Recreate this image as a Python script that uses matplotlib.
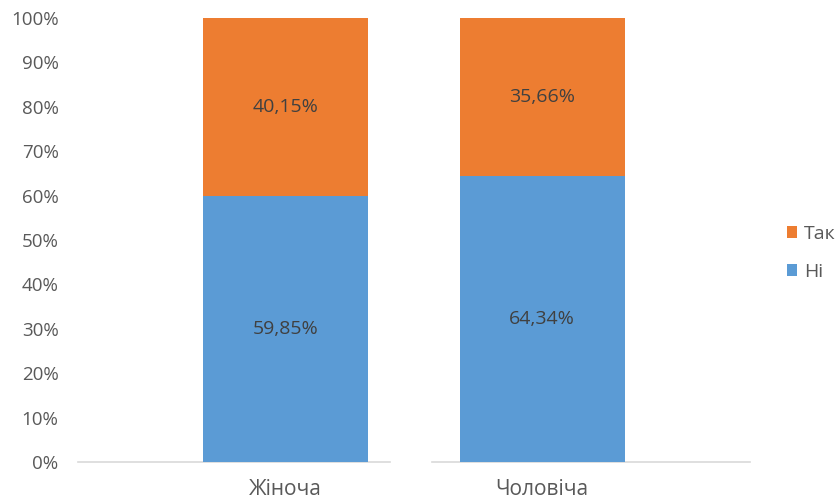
import matplotlib.pyplot as plt
import numpy as np

plt.rcParams['font.family'] = ['Open Sans', 'DejaVu Sans']

categories = ['Жіноча', 'Чоловіча']
ni = [59.85, 64.34]    # Ні
tak = [40.15, 35.66]   # Так
yticks = list(range(0, 101, 10))

blue = '#5B9BD5'
orange = '#ED7D31'
gray = '#595959'

fig = plt.figure(figsize=(8.37, 5.0), dpi=100)
ax = fig.add_axes([78/837, 1 - 462/500, (750 - 78)/837, (462 - 18)/500])

x = np.arange(len(categories))
w = 0.642
b1 = ax.bar(x, ni, width=w, color=blue, label='Ні')
b2 = ax.bar(x, tak, width=w, bottom=ni, color=orange, label='Так')

# data labels
for i in range(len(categories)):
    ax.text(x[i], ni[i] / 2, f'{ni[i]:.2f}%'.replace('.', ','), ha='center', va='center',
            fontsize=14, color='#404040')
    ax.text(x[i], ni[i] + tak[i] / 2, f'{tak[i]:.2f}%'.replace('.', ','), ha='center', va='center',
            fontsize=14, color='#404040')

# split baselines like the source
ax.plot([-0.81, 0.407], [0, 0], color='#D9D9D9', lw=1.2, clip_on=False, zorder=0)
ax.plot([0.57, 1.81], [0, 0], color='#D9D9D9', lw=1.2, clip_on=False, zorder=0)

ax.set_xlim(-0.81, 1.81)
ax.set_ylim(0, 100)
ax.set_yticks(yticks)
ax.set_yticklabels([f'{t}%' for t in yticks], fontsize=13.5, color=gray)
ax.set_xticks(x)
ax.set_xticklabels(categories, fontsize=15, color=gray)
ax.tick_params(length=0, axis='y', pad=14)
ax.tick_params(length=0, axis='x', pad=12)
for s in ax.spines.values():
    s.set_visible(False)

fig.legend(handles=[b2, b1], labels=['Так', 'Ні'], loc='center left',
           bbox_to_anchor=(0.940, 0.494), frameon=False, fontsize=14,
           labelcolor=gray, handlelength=0.55, handleheight=0.55,
           handletextpad=0.35, labelspacing=1.05, borderpad=0, borderaxespad=0)

fig.savefig('out.png', dpi=100)
